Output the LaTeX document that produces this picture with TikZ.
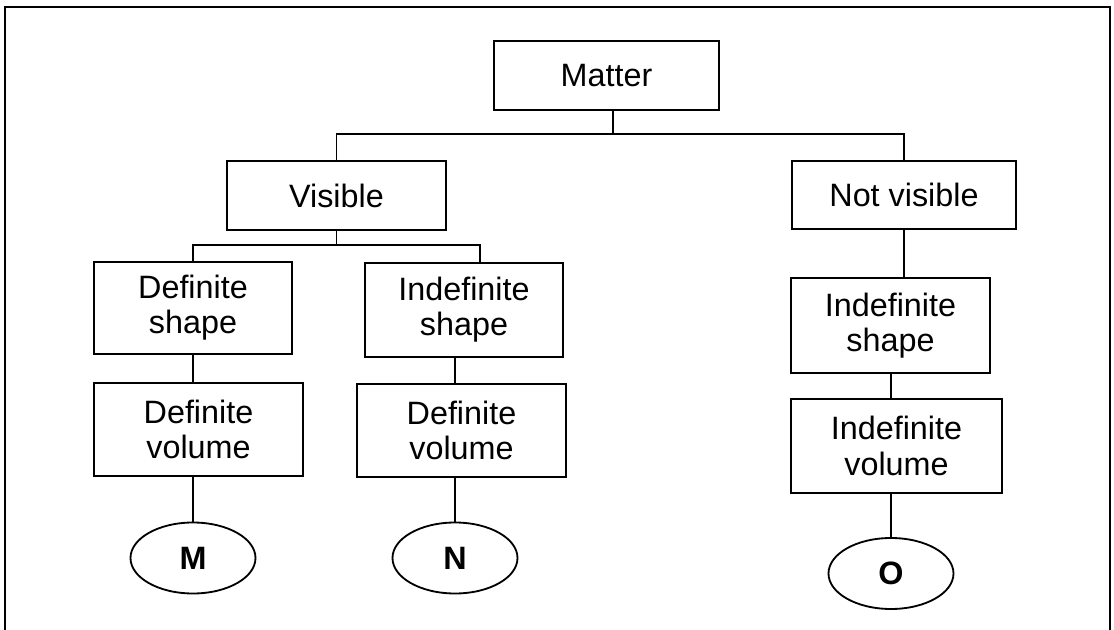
\documentclass[tikz,border=0pt]{standalone}
\usepackage{fontspec}
\setmainfont{Liberation Sans}
\usetikzlibrary{shapes.geometric}

\begin{document}
\begin{tikzpicture}[x=0.025cm, y=-0.025cm, line width=1.3pt,
  every node/.style={font=\fontsize{23}{25}\selectfont},
  box/.style={draw, rectangle, align=center, inner sep=0pt},
  leaf/.style={draw, ellipse, inner sep=0pt, font=\fontsize{23}{25}\selectfont\bfseries}]
  \useasboundingbox (0,0) rectangle (1114,630);
  % frame, open at the bottom
  \draw (5,630) -- (5,7) -- (1110,7) -- (1110,630);
  \foreach \n/\x/\y/\w/\h/\t in {matter/606.5/75.5/225/69/Matter, visible/336.5/195.5/219/69/Visible,
      notvis/904/195/224/68/Not visible, defshape/193/308/198/92/Definite\\shape,
      indefshape/464/310/198/94/Indefinite\\shape, indefshapeR/890.5/325.5/199/95/Indefinite\\shape,
      defvolL/198.5/429.5/209/93/Definite\\volume, defvolM/461.5/430.5/209/93/Definite\\volume,
      indefvolR/896.5/446/211/94/Indefinite\\volume} {
    \node[box, minimum width=\w*0.025cm, minimum height=\h*0.025cm] (\n) at (\x,\y) {\t};
  }
  \foreach \n/\x/\y in {M/193/558, N/455/558, O/891/573.5} {
    \node[leaf, minimum width=125*0.025cm, minimum height=71*0.025cm] (\n) at (\x,\y) {\n};
  }
  % branches
  \coordinate (bus1) at (0,134);
  \coordinate (bus2) at (0,245);
  \draw ([xshift=0.16cm]matter.south) -- ([xshift=0.16cm]matter.south |- bus1);
  \draw (visible.north) |- (notvis.north |- bus1) -- (notvis.north);
  \draw (visible.south) -- (visible.south |- bus2);
  \draw (defshape.north) |- ([xshift=0.4cm]indefshape.north |- bus2) -- ([xshift=0.4cm]indefshape.north);
  \draw (notvis.south) -- (notvis.south |- indefshapeR.north);
  % chains down to the leaves
  \draw (M |- defshape.south) -- (M |- defvolL.north);
  \draw (N |- indefshape.south) -- (N |- defvolM.north);
  \draw (O |- indefshapeR.south) -- (O |- indefvolR.north);
  \draw (M |- defvolL.south) -- (M.north);
  \draw (N |- defvolM.south) -- (N.north);
  \draw (O |- indefvolR.south) -- (O.north);
\end{tikzpicture}
\end{document}
